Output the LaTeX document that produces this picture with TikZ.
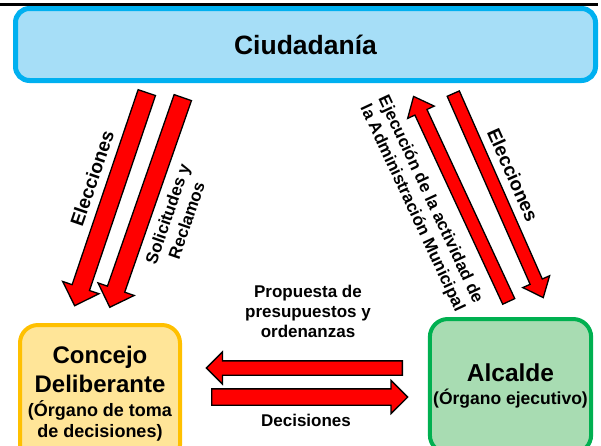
\documentclass[tikz,border=0pt]{standalone}
\usepackage{fontspec}
\setmainfont{Liberation Sans}
\usetikzlibrary{shapes.arrows}
\definecolor{ciudborde}{HTML}{00B0F0}
\definecolor{ciudfondo}{HTML}{A6DEF7}
\definecolor{concborde}{HTML}{FFC000}
\definecolor{concfondo}{HTML}{FFE598}
\definecolor{alcborde}{HTML}{00B050}
\definecolor{alcfondo}{HTML}{A8DCB2}
\tikzstyle{box}=[draw, line width=4pt, rounded corners=18pt, align=center, font=\bfseries]
\tikzstyle{fatarrow}=[single arrow, draw=black, fill=red, line width=1.3pt, inner xsep=0pt, single arrow head indent=0pt, anchor=tail]
\tikzstyle{lbl}=[font=\bfseries\fontsize{17}{20}\selectfont, align=center, inner sep=0pt]

\begin{document}
\begin{tikzpicture}[x=1pt,y=1pt]
    \useasboundingbox (0,0) rectangle (601,-445);
    \draw[line width=3pt] (0,-4.5) -- (598,-4.5);
    \node[box, draw=ciudborde, fill=ciudfondo, line width=5pt, rounded corners=14pt,
      minimum width=580pt, minimum height=72pt, font=\bfseries\fontsize{26.5}{30}\selectfont] (ciud) at (305.5,-44.5) {Ciudadanía};
    \node[box, draw=concborde, fill=concfondo, minimum width=160pt, minimum height=138pt,
      font=\bfseries\fontsize{24}{29}\selectfont] (conc) at (100,-394)
      {Concejo\\Deliberante\\[-5pt]{\fontsize{18}{18}\selectfont(Órgano de toma}\\[-8pt]{\fontsize{18}{18}\selectfont de decisiones)}};
    \node[box, draw=alcborde, fill=alcfondo, minimum width=161pt, minimum height=134pt,
      font=\bfseries\fontsize{24.5}{29}\selectfont] (alc) at (510.5,-386)
      {Alcalde\\[-6pt]{\fontsize{17.5}{18}\selectfont(Órgano ejecutivo)}};

    \node[fatarrow, rotate=251.3, minimum height=225pt, inner ysep=8.5pt, single arrow head extend=10pt] (elecA) at (147,-92) {};
    \node[fatarrow, rotate=250.8, minimum height=222pt, inner ysep=8.5pt, single arrow head extend=10pt] (solA) at (183,-97) {};
    \node[fatarrow, rotate=114.9, minimum height=226pt, inner ysep=6pt, single arrow head extend=8pt, single arrow tip angle=80] (ejecA) at (509,-302) {};
    \node[fatarrow, rotate=-66.2, minimum height=223pt, inner ysep=6pt, single arrow head extend=8pt, single arrow tip angle=80] (elecB) at (453,-93) {};
    \node[fatarrow, rotate=180, minimum height=196pt, inner ysep=6.5pt, single arrow head extend=9pt] (propA) at (403,-368) {};
    \node[fatarrow, minimum height=196pt, inner ysep=7.5pt, single arrow head extend=8.5pt] (decA) at (211,-397) {};

    \node[lbl, font=\bfseries\fontsize{19}{22}\selectfont, rotate=71] (elecAt) at (92,-178) {Elecciones};
    \node[lbl, rotate=71] (solAt) at (177,-217) {Solicitudes y\\Reclamos};
    \node[lbl, rotate=-65] (ejecAt) at (421,-204) {Ejecución de la actividad de\\la Administración Municipal};
    \node[lbl, font=\bfseries\fontsize{19}{22}\selectfont, rotate=-66] (elecBt) at (513,-175) {Elecciones};
    \node[lbl] (propAt) at (308,-311) {Propuesta de\\presupuestos y\\ordenanzas};
    \node[lbl] (decAt) at (306,-420) {Decisiones};
  \end{tikzpicture}
\end{document}
